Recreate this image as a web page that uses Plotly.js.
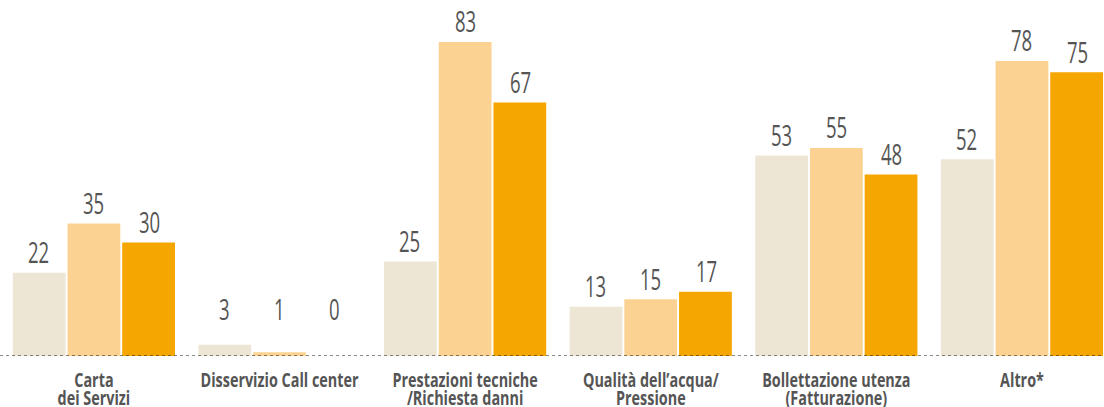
<!DOCTYPE html>
<html>
<head>
<meta charset="utf-8">
<script src="https://cdn.plot.ly/plotly-3.0.1.min.js"></script>
<style>
  html, body { margin: 0; padding: 0; background: #ffffff; }
  #chart { width: 1104px; height: 407px; }
</style>
</head>
<body>
<div id="chart"></div>
<script>
// Categories of the reports
const categories = [
  "Carta<br>dei Servizi",
  "Disservizio Call center",
  "Prestazioni tecniche<br>/Richiesta danni",
  "Qualità dell’acqua/<br>Pressione",
  "Bollettazione utenza<br>(Fatturazione)",
  "Altro*"
];

// Three series (oldest to newest)
const seriesA = [22, 3, 25, 13, 53, 52];
const seriesB = [35, 1, 83, 15, 55, 78];
const seriesC = [30, 0, 67, 17, 48, 75];

const colors = ["#ede6d4", "#fbd291", "#f5a600"];
const xIdx = categories.map((_, i) => i);

const series = [seriesA, seriesB, seriesC];
const traces = series.map((vals, k) => ({
  type: "bar",
  x: xIdx,
  y: vals,
  marker: { color: colors[k], line: { width: 0 } },
  hoverinfo: "skip",
  showlegend: false
}));

// Value labels above each bar; very short bars keep their label at a minimum height
const MIN_LABEL_LEVEL = 7;
const labelFont = { family: "Open Sans, sans-serif", size: 29, color: "#555555" };
const slotOffset = [-0.298, 0, 0.298];
const annotations = [];
series.forEach((vals, k) => {
  vals.forEach((v, i) => {
    annotations.push({
      x: i + slotOffset[k], y: Math.max(v, MIN_LABEL_LEVEL), xref: "x", yref: "y",
      text: String(v), showarrow: false,
      yanchor: "middle", yshift: 21,
      font: labelFont
    });
  });
});

const layout = {
  width: 1104,
  height: 407,
  margin: { l: 0, r: 0, t: 0, b: 51, pad: 0 },
  paper_bgcolor: "#ffffff",
  plot_bgcolor: "#ffffff",
  barmode: "group",
  bargap: 0.116,
  bargroupgap: 0.035,
  xaxis: {
    range: [-0.506, 5.442],
    tickmode: "array",
    tickvals: xIdx,
    ticktext: categories,
    tickangle: 0,
    ticks: "",
    showgrid: false,
    zeroline: false,
    showline: false,
    ticklabelstandoff: 10,
    tickfont: { family: "Open Sans, sans-serif", size: 20, color: "#555555", weight: 700 }
  },
  yaxis: {
    range: [0, 94.1],
    visible: false,
    showgrid: false,
    zeroline: false
  },
  shapes: [{
    type: "line", xref: "paper", yref: "y",
    x0: 0, x1: 1, y0: 0, y1: 0,
    line: { color: "#111111", width: 1, dash: "dot" }
  }],
  annotations: annotations
};

// Narrow the text horizontally around its own centre (condensed look)
function squeeze(selector, factor) {
  document.querySelectorAll(selector).forEach(t => {
    const base = t.getAttribute("data-base-transform") ?? (t.getAttribute("transform") || "");
    t.setAttribute("data-base-transform", base);
    const b = t.getBBox();
    const cx = b.x + b.width / 2;
    t.setAttribute("transform", `${base} translate(${cx},0) scale(${factor},1) translate(${-cx},0)`);
  });
}

// Spacing between the lines of the category labels
function setLineSpacing(selector, dy) {
  document.querySelectorAll(selector).forEach(t => {
    t.querySelectorAll("tspan.line").forEach((ts, i) => {
      if (i > 0) ts.setAttribute("dy", dy);
    });
  });
}

Plotly.newPlot("chart", traces, layout, { displayModeBar: false, staticPlot: true }).then(() => {
  setLineSpacing(".xtick text", "0.9em");
  squeeze(".xtick text", 0.72);
  squeeze(".annotation-text", 0.64);
});
</script>
</body>
</html>
